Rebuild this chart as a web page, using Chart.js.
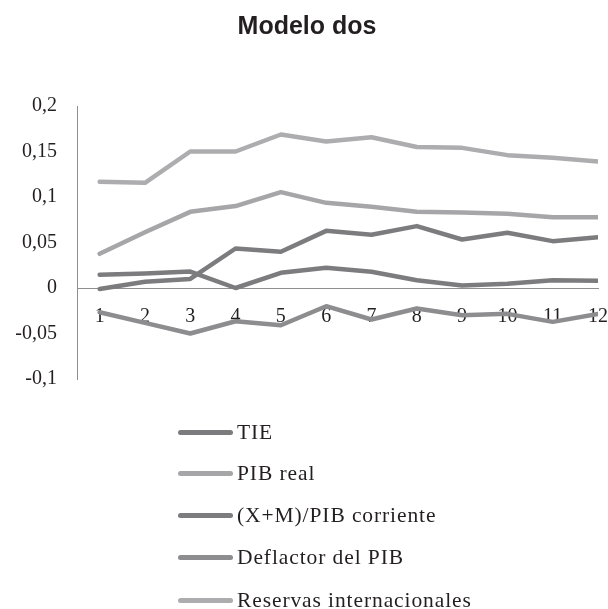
<!DOCTYPE html>
<html>
<head>
<meta charset="utf-8">
<script src="https://cdn.jsdelivr.net/npm/chart.js@4.4.0/dist/chart.umd.min.js"></script>
<style>
    html, body { margin: 0; padding: 0; background: #fff; }
    #wrap { position: relative; width: 608px; height: 609px; overflow: hidden; }
    #legenda { position: absolute; left: 0; top: 0; width: 608px; height: 609px; pointer-events: none; }
    .item {
        position: absolute; left: 178px; height: 24px;
        display: flex; align-items: center; white-space: nowrap;
        font-family: "Liberation Serif", "Times New Roman", serif;
        font-size: 21.5px; color: #231f20; letter-spacing: 0.9px;
    }
    .traco { width: 55px; height: 5px; border-radius: 3px; margin-right: 4px; }
</style>
</head>
<body>
<div id="wrap">
    <canvas id="grafico" width="608" height="609"></canvas>
    <div id="legenda"></div>
</div>
<script>
// Periodos (eje x)
const periodos = [1, 2, 3, 4, 5, 6, 7, 8, 9, 10, 11, 12];

// Series
const tie = [0.0145, 0.016, 0.018, 0.0, 0.0167, 0.0222, 0.0178, 0.0086, 0.0027, 0.0046, 0.0086, 0.0079];
const pibReal = [0.0376, 0.0613, 0.0837, 0.090, 0.1053, 0.0936, 0.0892, 0.0837, 0.083, 0.0815, 0.0778, 0.0778];
const apertura = [-0.001, 0.0068, 0.010, 0.0434, 0.0398, 0.0628, 0.0585, 0.068, 0.0533, 0.0607, 0.0515, 0.0558];
const deflactor = [-0.0266, -0.0383, -0.050, -0.0365, -0.0409, -0.020, -0.0346, -0.0225, -0.0299, -0.0284, -0.0372, -0.0284];
const reservas = [0.1167, 0.1156, 0.150, 0.150, 0.1687, 0.161, 0.1657, 0.155, 0.154, 0.146, 0.143, 0.139];

const nombres = ['TIE', 'PIB real', '(X+M)/PIB corriente', 'Deflactor del PIB', 'Reservas internacionales'];
const colores = ['#7c7c7e', '#a6a6a8', '#7c7c7e', '#8d8d8f', '#adadaf'];
const series = [tie, pibReal, apertura, deflactor, reservas];

// Pasar a puntos {x, y} para el eje lineal
function puntos(valores) {
    return valores.map((v, i) => ({ x: periodos[i], y: v }));
}

const fuenteSerif = '"Liberation Serif", "Times New Roman", serif';

const grafico = new Chart(document.getElementById('grafico'), {
    type: 'line',
    data: {
        datasets: series.map((s, i) => ({
            label: nombres[i],
            data: puntos(s),
            borderColor: colores[i],
            backgroundColor: colores[i],
            borderWidth: 4.5,
            pointRadius: 0,
            tension: 0,
            borderCapStyle: 'round',
            borderJoinStyle: 'round'
        }))
    },
    options: {
        responsive: false,
        animation: false,
        layout: { padding: { left: 16, right: 10, top: 0, bottom: 230 } },
        plugins: {
            legend: { display: false },
            tooltip: { enabled: false },
            title: {
                display: true,
                text: 'Modelo dos',
                color: '#231f20',
                font: { family: '"Liberation Sans", Arial, sans-serif', size: 25, weight: 'bold' },
                padding: { top: 12, bottom: 64 }
            }
        },
        scales: {
            x: {
                type: 'linear',
                position: { y: 0 },
                min: 0.5,
                max: 12,
                grid: { display: false, drawTicks: false },
                border: { display: true, color: '#8f8f8f', width: 1 },
                afterBuildTicks: scale => { scale.ticks = periodos.map(v => ({ value: v })); },
                afterFit: scale => { scale.paddingLeft = 0; scale.paddingRight = 0; },
                ticks: {
                    autoSkip: false,
                    maxRotation: 0,
                    padding: 17,
                    color: '#231f20',
                    font: { family: fuenteSerif, size: 20 }
                }
            },
            y: {
                min: -0.1,
                max: 0.2,
                grid: { display: false, drawTicks: false },
                border: { display: true, color: '#8f8f8f', width: 1 },
                afterFit: scale => { scale.width = 61; },
                ticks: {
                    stepSize: 0.05,
                    padding: 20,
                    color: '#231f20',
                    font: { family: fuenteSerif, size: 20 },
                    callback: v => String(Math.round(v * 100) / 100).replace('.', ',')
                }
            }
        }
    }
});

// Leyenda vertical debajo del grafico
const legenda = document.getElementById('legenda');
const centrosY = [432, 473, 515, 557, 600];
grafico.data.datasets.forEach((ds, i) => {
    const item = document.createElement('div');
    item.className = 'item';
    item.style.top = (centrosY[i] - 12) + 'px';
    const traco = document.createElement('span');
    traco.className = 'traco';
    traco.style.background = ds.borderColor;
    const texto = document.createElement('span');
    texto.textContent = ds.label;
    item.appendChild(traco);
    item.appendChild(texto);
    legenda.appendChild(item);
});
</script>
</body>
</html>
